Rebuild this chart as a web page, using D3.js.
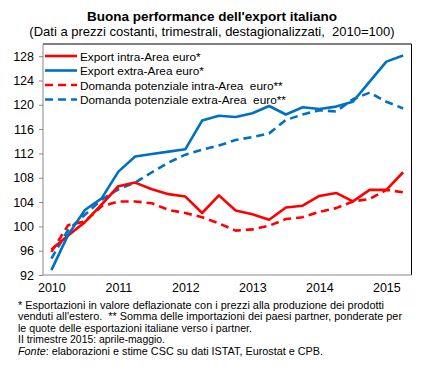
<!DOCTYPE html>
<html>
<head>
<meta charset="utf-8">
<script src="https://cdn.jsdelivr.net/npm/d3@7"></script>
<style>
body{margin:0;background:#fff;}
text{font-family:"Liberation Sans",Arial,sans-serif;fill:#000;white-space:pre;}
</style>
</head>
<body>
<div id="graph"></div>
<script>
// quarterly, 2010 Q1 .. 2015 Q2
var quarters = d3.range(22);
var yearLabels = ["2010","2011","2012","2013","2014","2015"];
var yTicks = [92,96,100,104,108,112,116,120,124,128];

var exportIntra = [96.2,98.5,100.7,103.6,106.6,107.2,106.1,105.3,104.9,102.2,105.1,102.6,102.0,101.1,103.1,103.4,105.0,105.5,104.1,106.0,106.0,108.9];
var exportExtra = [92.8,98.6,102.7,104.6,109.0,111.5,111.9,112.3,112.7,117.4,118.2,118.0,118.6,119.8,118.4,119.6,119.3,119.7,120.5,123.8,127.1,128.1];
var domandaIntra = [95.8,100.2,100.8,103.3,104.1,104.1,103.8,102.7,102.2,101.5,100.5,99.3,99.5,100.1,101.2,101.5,102.4,103.0,104.1,104.5,106.0,105.6];
var domandaExtra = [94.7,99.4,101.9,104.4,106.1,107.2,108.9,110.5,111.8,112.6,113.3,114.2,114.7,115.3,117.5,118.4,119.1,118.9,120.9,122.0,120.5,119.4];

var seriesNames = ["Export intra-Area euro*","Export extra-Area euro*","Domanda potenziale intra-Area  euro**","Domanda potenziale extra-Area  euro**"];

var notes = [
	"* Esportazioni in valore deflazionate con i prezzi alla produzione dei prodotti",
	"venduti all'estero.  ** Somma delle importazioni dei paesi partner, ponderate per",
	"le quote delle esportazioni italiane verso i partner.",
	"II trimestre 2015: aprile-maggio."
];

var series = [
	{name:seriesNames[0], values:exportIntra, color:"#ff0000", dash:null},
	{name:seriesNames[1], values:exportExtra, color:"#0070c0", dash:null},
	{name:seriesNames[2], values:domandaIntra, color:"#ff0000", dash:"8,5"},
	{name:seriesNames[3], values:domandaExtra, color:"#0070c0", dash:"8,5"}
];

var canvas = d3.select("#graph").append("svg")
	.attr("width",440)
	.attr("height",371);

var plotL=43, plotR=411.5, plotT=44, plotB=275;

var x = d3.scalePoint().domain(quarters).range([plotL,plotR]).padding(0.5);
var y = d3.scaleLinear().domain([92,130]).range([plotB,plotT]);

// title
canvas.append("text")
	.attr("x",212).attr("y",21)
	.attr("text-anchor","middle")
	.style("font-size","13.5px").style("font-weight","bold")
	.text("Buona performance dell'export italiano");
canvas.append("text")
	.attr("x",212).attr("y",36)
	.attr("text-anchor","middle")
	.style("font-size","13px")
	.text("(Dati a prezzi costanti, trimestrali, destagionalizzati,  2010=100)");

// frame
canvas.append("path")
	.attr("d","M"+plotL+","+plotT+"H"+plotR+"V"+plotB)
	.attr("fill","none").attr("stroke","#000").attr("stroke-width",1);

var yAxis = canvas.append("g")
	.attr("transform","translate("+plotL+",0)")
	.call(d3.axisLeft(y).tickValues(yTicks).tickSize(4).tickPadding(5));
yAxis.select(".domain").attr("stroke","#888").attr("d","M0,"+plotT+"V"+plotB);
yAxis.selectAll(".tick line").attr("stroke","#888");
yAxis.selectAll("text").style("font-size","12.5px").style("font-family","Liberation Sans, Arial, sans-serif");

var xAxis = canvas.append("g")
	.attr("transform","translate(0,"+plotB+")")
	.call(d3.axisBottom(x).tickValues(quarters.filter(function(d){return d%4==0;}))
		.tickSize(0).tickPadding(8)
		.tickFormat(function(d){return yearLabels[d/4];}));
xAxis.select(".domain").attr("stroke","#888").attr("d","M"+plotL+",0H"+plotR);
xAxis.selectAll("text").style("font-size","12.5px").style("font-family","Liberation Sans, Arial, sans-serif");

var line = d3.line()
	.x(function(d,i){return x(i);})
	.y(function(d){return y(d);});

// dashed first, solid on top
[2,3,0,1].forEach(function(k){
	var s = series[k];
	canvas.append("path")
		.attr("d",line(s.values))
		.attr("fill","none")
		.attr("stroke",s.color)
		.attr("stroke-width",2.6)
		.attr("stroke-linejoin","round")
		.attr("stroke-dasharray",s.dash);
});

// legend
var leg = canvas.selectAll(".leg")
	.data(series)
	.enter().append("g")
	.attr("class","leg")
	.attr("transform",function(d,i){return "translate(45,"+(56+i*14.5)+")";});
leg.append("line")
	.attr("x1",0).attr("x2",32)
	.attr("stroke",function(d){return d.color;})
	.attr("stroke-width",2.6)
	.attr("stroke-dasharray",function(d){return d.dash;});
leg.append("text")
	.attr("x",35).attr("y",4.5)
	.style("font-size","11.8px")
	.text(function(d){return d.name;});

// notes
var noteWidths = [366,384,234,147];
canvas.selectAll(".note")
	.data(notes)
	.enter().append("text")
	.attr("class","note")
	.attr("x",18)
	.attr("y",function(d,i){return 309+i*11.4;})
	.style("font-size","11px")
	.attr("textLength",function(d,i){return noteWidths[i];})
	.attr("lengthAdjust","spacingAndGlyphs")
	.text(function(d){return d;});

var fonte = canvas.append("text")
	.attr("x",18).attr("y",309+4*11.4)
	.style("font-size","11px")
	.attr("textLength",305)
	.attr("lengthAdjust","spacingAndGlyphs");
fonte.append("tspan").style("font-style","italic").text("Fonte");
fonte.append("tspan").text(": elaborazioni e stime CSC su dati ISTAT, Eurostat e CPB.");
</script>
</body>
</html>
